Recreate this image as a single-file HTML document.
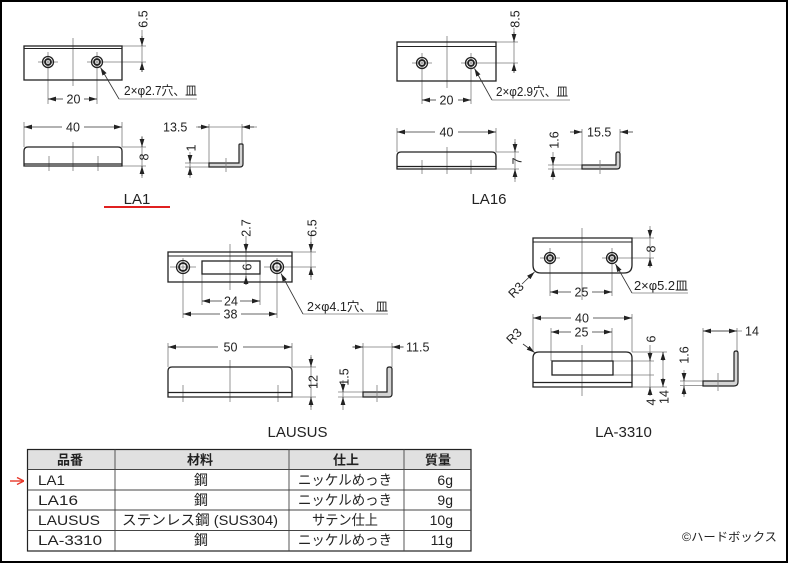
<!DOCTYPE html>
<html><head><meta charset="utf-8"><style>
html,body{margin:0;padding:0;background:#fff}
svg{display:block}
.m{stroke:#222;stroke-width:1.3;fill:none}
.lf{stroke:#222;stroke-width:1.2;fill:#d4d4d4}
.t{stroke:#7a7a7a;stroke-width:0.8;fill:none}
.d{stroke:#444;stroke-width:0.8;fill:none}
.ar{stroke:#333;stroke-width:0.8;fill:none;marker-end:url(#a)}
text{font-family:"Liberation Sans","Noto Sans CJK JP",sans-serif;fill:#222;font-size:12.5px}
.lb{font-size:15px;text-anchor:middle}
.c{text-anchor:middle}
.tb{font-size:14px}
.hd{font-size:13px;font-weight:bold;text-anchor:middle}
</style></head><body>
<svg width="788" height="563" viewBox="0 0 788 563" xmlns="http://www.w3.org/2000/svg">
<defs>
<marker id="a" viewBox="0 0 8 6" refX="8" refY="3" markerWidth="8" markerHeight="6" markerUnits="userSpaceOnUse" orient="auto"><path d="M0,0.6L8,3L0,5.4z" fill="#222"/></marker>
<marker id="r" viewBox="0 0 8 8" refX="8" refY="4" markerWidth="8" markerHeight="8" markerUnits="userSpaceOnUse" orient="auto"><path d="M1,0.5L8,4L1,7.5" fill="none" stroke="#e8392b" stroke-width="1.4"/></marker>
</defs>
<rect x="1" y="1" width="786" height="561" fill="#fff" stroke="#000" stroke-width="2"/>

<!-- ===== LA1 plan ===== -->
<g class="t">
<line x1="73" y1="38" x2="73" y2="86"/>
<line x1="38" y1="62" x2="58" y2="62"/>
<line x1="87" y1="62" x2="146" y2="62"/>
<line x1="48" y1="52" x2="48" y2="104"/>
<line x1="97" y1="52" x2="97" y2="104"/>
<line x1="122" y1="46" x2="146" y2="46"/>
<line x1="142" y1="30" x2="142" y2="72"/>
<line x1="119" y1="99" x2="197" y2="99"/>
</g>
<g class="m">
<rect x="24" y="46" width="98" height="34"/>
<line x1="24" y1="48.5" x2="122" y2="48.5" stroke-width="1"/>
<circle cx="48" cy="62" r="5.5"/><circle cx="48" cy="62" r="3" stroke-width="1.8"/>
<circle cx="97" cy="62" r="5.5"/><circle cx="97" cy="62" r="3" stroke-width="1.8"/>
</g>
<path class="ar" d="M142,36V46"/><path class="ar" d="M142,72V62"/>
<path class="ar" d="M63,99H48"/><path class="ar" d="M84,99H97"/>
<path class="ar" d="M119,99L100.5,67.5"/>
<text transform="rotate(-90 143 19)" x="143" y="23.3" class="c">6.5</text>
<text x="73.5" y="103.5" class="c">20</text>
<text x="124" y="95" textLength="73" lengthAdjust="spacingAndGlyphs">2×φ2.7穴、皿</text>

<!-- LA1 side -->
<g class="t">
<line x1="24" y1="122" x2="24" y2="147"/>
<line x1="122" y1="122" x2="122" y2="147"/>
<line x1="73" y1="142" x2="73" y2="171"/>
<line x1="49" y1="156" x2="49" y2="171"/>
<line x1="98" y1="156" x2="98" y2="171"/>
<line x1="122" y1="147" x2="146" y2="147"/>
<line x1="122" y1="166" x2="146" y2="166"/>
<line x1="142" y1="136" x2="142" y2="178"/>
</g>
<path class="m" d="M24,166V151Q24,147 28,147H118Q122,147 122,151V166Z"/>
<line class="m" x1="24" y1="164" x2="122" y2="164" stroke-width="1.8"/>
<path class="ar" d="M62,127H24"/><path class="ar" d="M84,127H122"/>
<path class="ar" d="M142,137V147"/><path class="ar" d="M142,176V166"/>
<text x="73" y="131.5" class="c">40</text>
<text transform="rotate(-90 144 157)" x="144" y="161.3" class="c">8</text>

<!-- LA1 end -->
<g class="t">
<line x1="209" y1="124" x2="209" y2="167"/>
<line x1="242" y1="124" x2="242" y2="144"/>
<line x1="196" y1="127" x2="257" y2="127"/>
<line x1="185" y1="163" x2="209" y2="163"/>
<line x1="185" y1="167" x2="209" y2="167"/>
<line x1="190" y1="152" x2="190" y2="178"/>
</g>
<path class="lf" d="M209,163H239V145Q239,144 240,144H242Q243,144 243,145V164Q243,167 240,167H209Z"/>
<line class="t" x1="226" y1="158" x2="226" y2="172"/>
<path class="ar" d="M198,127H209"/><path class="ar" d="M254,127H242"/>
<path class="ar" d="M190,155V163"/><path class="ar" d="M190,176V167"/>
<text x="163" y="131.5">13.5</text>
<text transform="rotate(-90 191 148)" x="191" y="152.3" class="c">1</text>
<text x="137" y="204" class="lb">LA1</text>
<line x1="104" y1="207" x2="170" y2="207" stroke="#e02020" stroke-width="2"/>

<!-- ===== LA16 plan ===== -->
<g class="t">
<line x1="447" y1="36" x2="447" y2="88"/>
<line x1="412" y1="63" x2="432" y2="63"/>
<line x1="461" y1="63" x2="518" y2="63"/>
<line x1="422" y1="53" x2="422" y2="104"/>
<line x1="471" y1="53" x2="471" y2="104"/>
<line x1="496" y1="42" x2="518" y2="42"/>
<line x1="514" y1="28" x2="514" y2="72"/>
<line x1="492" y1="100" x2="570" y2="100"/>
</g>
<g class="m">
<rect x="397" y="42" width="99" height="39"/>
<line x1="397" y1="46.5" x2="496" y2="46.5" stroke-width="1"/>
<circle cx="422" cy="63" r="5.5"/><circle cx="422" cy="63" r="3" stroke-width="1.8"/>
<circle cx="471" cy="63" r="5.5"/><circle cx="471" cy="63" r="3" stroke-width="1.8"/>
</g>
<path class="ar" d="M514,32V42"/><path class="ar" d="M514,73V63"/>
<path class="ar" d="M436,100H422"/><path class="ar" d="M458,100H471"/>
<path class="ar" d="M492,100L474.5,68.5"/>
<text transform="rotate(-90 515 19)" x="515" y="23.3" class="c">8.5</text>
<text x="446.5" y="104.5" class="c">20</text>
<text x="496" y="96" textLength="72" lengthAdjust="spacingAndGlyphs">2×φ2.9穴、皿</text>

<!-- LA16 side -->
<g class="t">
<line x1="397" y1="128" x2="397" y2="152"/>
<line x1="496" y1="128" x2="496" y2="152"/>
<line x1="447" y1="147" x2="447" y2="174"/>
<line x1="422" y1="160" x2="422" y2="174"/>
<line x1="471" y1="160" x2="471" y2="174"/>
<line x1="496" y1="152" x2="519" y2="152"/>
<line x1="496" y1="169" x2="519" y2="169"/>
<line x1="515" y1="139" x2="515" y2="182"/>
</g>
<path class="m" d="M397,169V156Q397,152 401,152H492Q496,152 496,156V169Z"/>
<line class="m" x1="397" y1="166.5" x2="496" y2="166.5" stroke-width="1.8"/>
<path class="ar" d="M435,132H397"/><path class="ar" d="M458,132H496"/>
<path class="ar" d="M515,142V152"/><path class="ar" d="M515,179V169"/>
<text x="446.5" y="136.5" class="c">40</text>
<text transform="rotate(-90 517 161)" x="517" y="165.3" class="c">7</text>

<!-- LA16 end -->
<g class="t">
<line x1="582" y1="129" x2="582" y2="169"/>
<line x1="620" y1="129" x2="620" y2="152"/>
<line x1="548" y1="165" x2="582" y2="165"/>
<line x1="548" y1="169" x2="582" y2="169"/>
<line x1="553" y1="152" x2="553" y2="180"/>
</g>
<path class="lf" d="M582,165H616V154Q616,152 618,152Q620,152 620,154V166Q620,169 617,169H582Z"/>
<line class="t" x1="600" y1="160" x2="600" y2="174"/>
<path class="ar" d="M570,132H582"/><path class="ar" d="M633,132H620"/>
<path class="ar" d="M553,157V165"/><path class="ar" d="M553,177V169"/>
<text x="587" y="136.5">15.5</text>
<text transform="rotate(-90 554 140)" x="554" y="144.3" class="c">1.6</text>
<text x="489" y="204" class="lb">LA16</text>

<!-- ===== LAUSUS plan ===== -->
<g class="t">
<line x1="230" y1="244" x2="230" y2="290"/>
<line x1="170" y1="267" x2="196" y2="267"/>
<line x1="264" y1="267" x2="316" y2="267"/>
<line x1="183" y1="258" x2="183" y2="318"/>
<line x1="277" y1="258" x2="277" y2="318"/>
<line x1="202" y1="274" x2="202" y2="305"/>
<line x1="260" y1="274" x2="260" y2="305"/>
<line x1="292" y1="252" x2="316" y2="252"/>
<line x1="311" y1="236" x2="311" y2="280"/>
<line x1="246" y1="236" x2="246" y2="284"/>
<line x1="303" y1="314" x2="388" y2="314"/>
</g>
<g class="m">
<rect x="168" y="252" width="124" height="30"/>
<line x1="168" y1="256" x2="292" y2="256" stroke-width="1"/>
<rect x="202" y="261" width="58" height="13"/>
<circle cx="183" cy="267" r="6.5"/><circle cx="183" cy="267" r="4" stroke-width="1.8"/>
<circle cx="277" cy="267" r="6.5"/><circle cx="277" cy="267" r="4" stroke-width="1.8"/>
</g>
<path class="ar" d="M311,242V252"/><path class="ar" d="M311,277V267"/>
<path class="ar" d="M246,243V252"/><path class="ar" d="M246,285V276"/>
<path class="ar" d="M222,301H202"/><path class="ar" d="M240,301H260"/>
<path class="ar" d="M220,314H183"/><path class="ar" d="M241,314H277"/>
<path class="ar" d="M303,314L281,273.5"/>
<text transform="rotate(-90 312 228)" x="312" y="232.3" class="c">6.5</text>
<text transform="rotate(-90 246 228)" x="246" y="232.3" class="c">2.7</text>
<text transform="rotate(-90 247 267)" x="247" y="271.3" class="c">6</text>
<text x="231" y="305.5" class="c">24</text>
<text x="230.5" y="318.5" class="c">38</text>
<text x="307" y="311" textLength="81" lengthAdjust="spacingAndGlyphs">2×φ4.1穴、 皿</text>

<!-- LAUSUS side -->
<g class="t">
<line x1="168" y1="343" x2="168" y2="367"/>
<line x1="292" y1="343" x2="292" y2="367"/>
<line x1="230" y1="360" x2="230" y2="402"/>
<line x1="183" y1="385" x2="183" y2="402"/>
<line x1="278" y1="385" x2="278" y2="402"/>
<line x1="292" y1="367" x2="316" y2="367"/>
<line x1="292" y1="397" x2="316" y2="397"/>
<line x1="311" y1="355" x2="311" y2="410"/>
</g>
<path class="m" d="M168,397V371Q168,367 172,367H288Q292,367 292,371V397Z"/>
<line class="m" x1="168" y1="392.5" x2="292" y2="392.5" stroke-width="1.8"/>
<path class="ar" d="M218,347H168"/><path class="ar" d="M243,347H292"/>
<path class="ar" d="M311,357V367"/><path class="ar" d="M311,407V397"/>
<text x="230.5" y="351.5" class="c">50</text>
<text transform="rotate(-90 313 382)" x="313" y="386.3" class="c">12</text>

<!-- LAUSUS end -->
<g class="t">
<line x1="363" y1="343" x2="363" y2="397"/>
<line x1="392" y1="343" x2="392" y2="367"/>
<line x1="352" y1="347" x2="404" y2="347"/>
<line x1="338" y1="392" x2="363" y2="392"/>
<line x1="338" y1="397" x2="363" y2="397"/>
<line x1="343" y1="380" x2="343" y2="410"/>
</g>
<path class="lf" d="M363,392H387V369Q387,367 389.5,367Q392,367 392,369V394Q392,397 389,397H363Z"/>
<line class="t" x1="377" y1="385" x2="377" y2="402"/>
<path class="ar" d="M353,347H363"/><path class="ar" d="M403,347H392"/>
<path class="ar" d="M343,384V392"/><path class="ar" d="M343,405V397"/>
<text x="406" y="351.5">11.5</text>
<text transform="rotate(-90 344 377)" x="344" y="381.3" class="c">1.5</text>
<text x="297.5" y="437" class="lb">LAUSUS</text>

<!-- ===== LA-3310 plan ===== -->
<g class="t">
<line x1="582" y1="228" x2="582" y2="300"/>
<line x1="540" y1="258" x2="560" y2="258"/>
<line x1="602" y1="258" x2="654" y2="258"/>
<line x1="550" y1="248" x2="550" y2="296"/>
<line x1="612" y1="248" x2="612" y2="296"/>
<line x1="632" y1="238" x2="654" y2="238"/>
<line x1="650" y1="226" x2="650" y2="268"/>
<line x1="632" y1="293" x2="688" y2="293"/>
</g>
<g class="m">
<path d="M533,238H632V265Q632,273 624,273H541Q533,273 533,265Z"/>
<line x1="533" y1="242" x2="632" y2="242" stroke-width="1"/>
<circle cx="550" cy="258" r="5.5"/><circle cx="550" cy="258" r="3" stroke-width="1.8"/>
<circle cx="612" cy="258" r="5.5"/><circle cx="612" cy="258" r="3" stroke-width="1.8"/>
</g>
<path class="ar" d="M650,229V238"/><path class="ar" d="M650,267V258"/>
<path class="ar" d="M571,292H550"/><path class="ar" d="M592,292H612"/>
<path class="ar" d="M632,293L615.5,264"/>
<path class="ar" d="M522,284L534.5,272"/>
<text transform="rotate(-90 651 249)" x="651" y="253.3" class="c">8</text>
<text x="581.5" y="296.5" class="c">25</text>
<text x="634" y="290" textLength="54" lengthAdjust="spacingAndGlyphs">2×φ5.2皿</text>
<text transform="rotate(-45 516 290)" x="516" y="294.3" class="c">R3</text>

<!-- LA-3310 side -->
<g class="t">
<line x1="533" y1="314" x2="533" y2="352"/>
<line x1="632" y1="314" x2="632" y2="352"/>
<line x1="551" y1="328" x2="551" y2="361"/>
<line x1="612" y1="328" x2="612" y2="361"/>
<line x1="582" y1="345" x2="582" y2="396"/>
<line x1="632" y1="352" x2="667" y2="352"/>
<line x1="613" y1="361" x2="654" y2="361"/>
<line x1="613" y1="375" x2="654" y2="375"/>
<line x1="632" y1="387" x2="667" y2="387"/>
<line x1="650" y1="345" x2="650" y2="396"/>
<line x1="663" y1="352" x2="663" y2="387"/>
</g>
<path class="m" d="M533,387V358Q533,352 539,352H626Q632,352 632,358V387Z"/>
<line class="m" x1="533" y1="382.5" x2="632" y2="382.5" stroke-width="1.6"/>
<rect class="m" x="552" y="361" width="61" height="14"/>
<path class="ar" d="M571,318H533"/><path class="ar" d="M593,318H632"/>
<path class="ar" d="M571,332H551"/><path class="ar" d="M592,332H612"/>
<path class="ar" d="M650,352V361"/><path class="ar" d="M650,395V387"/>
<path class="ar" d="M663,361V352"/><path class="ar" d="M663,378V387"/>
<path class="ar" d="M523,344L534.5,352.5"/>
<text x="582" y="322.5" class="c">40</text>
<text x="581.5" y="336.5" class="c">25</text>
<text transform="rotate(-90 651 339)" x="651" y="343.3" class="c">6</text>
<text transform="rotate(-90 651 402)" x="651" y="406.3" class="c">4</text>
<text transform="rotate(-90 664 397)" x="664" y="401.3" class="c">14</text>
<text transform="rotate(-45 514 336)" x="514" y="340.3" class="c">R3</text>

<!-- LA-3310 end -->
<g class="t">
<line x1="703" y1="328" x2="703" y2="386"/>
<line x1="737" y1="328" x2="737" y2="351"/>
<line x1="703" y1="331" x2="742" y2="331"/>
<line x1="680" y1="381" x2="703" y2="381"/>
<line x1="680" y1="385.5" x2="703" y2="385.5"/>
<line x1="684" y1="370" x2="684" y2="397"/>
</g>
<path class="lf" d="M703,381H734V353Q734,351 736,351Q738,351 738,353V382Q738,386 734,386H703Z"/>
<line class="t" x1="718" y1="373" x2="718" y2="391"/>
<path class="ar" d="M720,331H703"/><path class="ar" d="M720,331H737"/>
<path class="ar" d="M684,373V381"/><path class="ar" d="M684,395V386"/>
<text x="745" y="335.5">14</text>
<text transform="rotate(-90 684 355)" x="684" y="359.3" class="c">1.6</text>
<text x="623.5" y="437" class="lb">LA-3310</text>

<!-- ===== Table ===== -->
<rect x="27.5" y="449.5" width="443.5" height="20" fill="#e0e0e0"/>
<rect x="27.5" y="449.5" width="443.5" height="101.5" fill="none" stroke="#222" stroke-width="1.2"/>
<g stroke="#444" stroke-width="0.9">
<line x1="27.5" y1="469.5" x2="471" y2="469.5"/>
<line x1="27.5" y1="490" x2="471" y2="490"/>
<line x1="27.5" y1="510" x2="471" y2="510"/>
<line x1="27.5" y1="530.5" x2="471" y2="530.5"/>
<line x1="115" y1="449.5" x2="115" y2="551"/>
<line x1="289" y1="449.5" x2="289" y2="551"/>
<line x1="404" y1="449.5" x2="404" y2="551"/>
</g>
<text x="70" y="464.5" class="hd">品番</text>
<text x="200" y="464.5" class="hd">材料</text>
<text x="346" y="464.5" class="hd">仕上</text>
<text x="438" y="464.5" class="hd">質量</text>

<text x="38" y="485" class="tb" textLength="27" lengthAdjust="spacingAndGlyphs">LA1</text>
<text x="38" y="505" class="tb" textLength="40" lengthAdjust="spacingAndGlyphs">LA16</text>
<text x="38" y="525" class="tb" textLength="62" lengthAdjust="spacingAndGlyphs">LAUSUS</text>
<text x="38" y="545" class="tb" textLength="64" lengthAdjust="spacingAndGlyphs">LA-3310</text>

<text x="201" y="485" class="tb c">鋼</text>
<text x="201" y="505" class="tb c">鋼</text>
<text x="122" y="525" class="tb" textLength="156" lengthAdjust="spacingAndGlyphs">ステンレス鋼 (SUS304)</text>
<text x="201" y="545" class="tb c">鋼</text>

<text x="298" y="485" class="tb" textLength="94" lengthAdjust="spacingAndGlyphs">ニッケルめっき</text>
<text x="298" y="505" class="tb" textLength="94" lengthAdjust="spacingAndGlyphs">ニッケルめっき</text>
<text x="312" y="525" class="tb" textLength="66" lengthAdjust="spacingAndGlyphs">サテン仕上</text>
<text x="298" y="545" class="tb" textLength="94" lengthAdjust="spacingAndGlyphs">ニッケルめっき</text>

<text x="453" y="485" class="tb" text-anchor="end">6g</text>
<text x="453" y="505" class="tb" text-anchor="end">9g</text>
<text x="453" y="525" class="tb" text-anchor="end">10g</text>
<text x="453" y="545" class="tb" text-anchor="end">11g</text>

<line x1="10" y1="481" x2="24" y2="481" stroke="#e8392b" stroke-width="1.4" marker-end="url(#r)"/>

<text x="682" y="541" textLength="95" lengthAdjust="spacingAndGlyphs" style="font-size:12px">©ハードボックス</text>
</svg>
</body></html>
